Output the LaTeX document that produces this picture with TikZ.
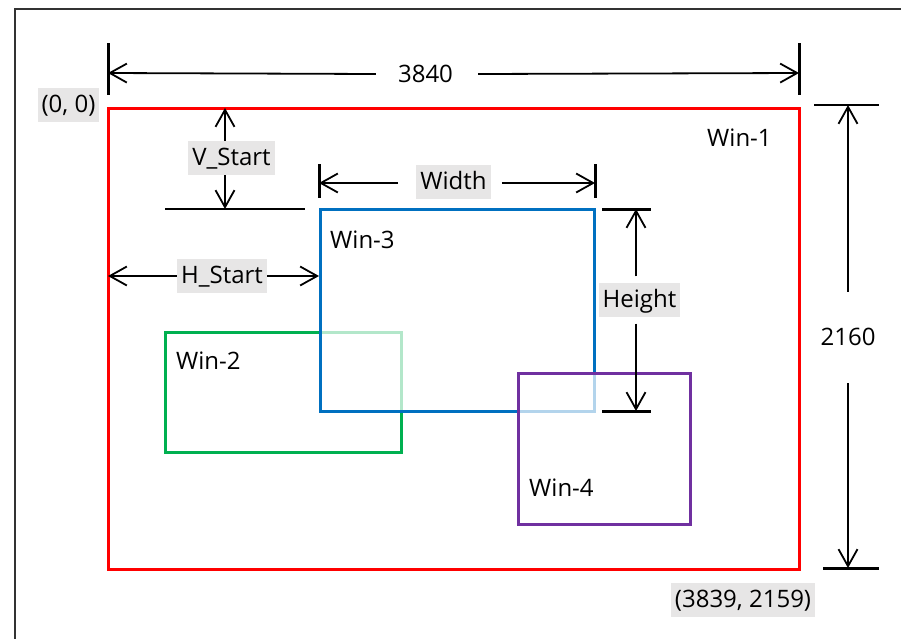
\documentclass[tikz,border=0pt]{standalone}
\usepackage{fontspec}
\setmainfont{Open Sans}
\usetikzlibrary{arrows.meta,calc}
\definecolor{lblgray}{RGB}{231,230,230}
\definecolor{wred}{RGB}{255,0,0}
\definecolor{wblue}{RGB}{0,112,192}
\definecolor{wgreen}{RGB}{0,176,80}
\definecolor{wpurple}{RGB}{112,48,160}
\begin{document}
\begin{tikzpicture}[x=1pt,y=-1pt,
  every node/.style={font=\fontsize{24}{28}\selectfont, inner sep=0pt},
  graylbl/.style={fill=lblgray, inner xsep=4pt, inner ysep=5pt, text height=19.5pt, text depth=4.5pt},
  dimarrow/.style={line width=1.8pt, -{Straight Barb[length=17pt,width=19pt]}},
  ticklong/.style={line width=3pt},
  tickthin/.style={line width=1.6pt},
  winbox/.style={line width=3pt},
  overlay box/.style={fill=white, fill opacity=0.7}]
\useasboundingbox (0,0) rectangle (901,638);
% outer frame
\draw[black!80, line width=1.6pt] (15,9) rectangle (915,660);

% windows
\draw[winbox, wred] (108,108) rectangle (799,569);
\draw[winbox, wgreen] (165,332) rectangle (401,452);
\draw[winbox, wblue, overlay box] (320,209) rectangle (594,411);
\draw[winbox, wpurple, overlay box] (518,373) rectangle (690,524);

\node[anchor=west] (win1) at (707,138) {Win-1};
\node[anchor=west] (win2) at (176,361) {Win-2};
\node[anchor=west] (win3) at (330,240) {Win-3};
\node[anchor=west] (win4) at (529,488) {Win-4};

% corner labels
\node[graylbl] (orig) at (68.5,105) {(0, 0)};
\node[graylbl] (lastpx) at (743,600) {(3839, 2159)};

% total width 3840
\coordinate (tl) at (108,73);
\coordinate (tr) at (799,73);
\draw[ticklong] (108,43) -- (108,95);
\draw[ticklong] (799,43) -- (799,95);
\node (n3840) at (425.5,74) {3840};
\draw[dimarrow] ([xshift=-22pt]n3840.west) -- (tl);
\draw[dimarrow] ([xshift=25pt]n3840.east) -- (tr);

% total height 2160
\coordinate (rt) at (848,105);
\coordinate (rb) at (848,568);
\draw[tickthin] (814,105) -- (879,105);
\draw[ticklong] (823,568) -- (879,568);
\node (n2160) at (848,337) {2160};
\draw[dimarrow] ([yshift=36pt]n2160.north) -- (rt);
\draw[dimarrow] ([yshift=-37pt]n2160.south) -- (rb);

% V_Start
\coordinate (vtop) at (225,108);
\coordinate (vbot) at (225,209);
\draw[tickthin] (165,209) -- (305,209);
\node[graylbl] (vs) at (231.5,158) {V\_Start};
\draw[dimarrow] (vs.north -| vtop) -- (vtop);
\draw[dimarrow] (vs.south -| vbot) -- (vbot);

% H_Start
\coordinate (hl) at (108,276);
\coordinate (hr) at (319,276);
\node[graylbl] (hs) at (222,275.5) {H\_Start};
\draw[dimarrow] (hs.west |- hl) -- (hl);
\draw[dimarrow] (hs.east |- hr) -- (hr);

% Width
\coordinate (wl) at (319,183);
\coordinate (wr) at (595,183);
\draw[ticklong] (319,164) -- (319,198);
\draw[ticklong] (595,164) -- (595,198);
\node[graylbl] (wd) at (453.5,181.5) {Width};
\draw[dimarrow] ($(wd.west |- wl)+(-18,0)$) -- (wl);
\draw[dimarrow] ($(wd.east |- wr)+(11,0)$) -- (wr);

% Height
\coordinate (ht) at (636,209);
\coordinate (hb) at (636,411);
\draw[ticklong] (602,209) -- (651,209);
\draw[ticklong] (602,411) -- (651,411);
\node[graylbl] (hg) at (639.5,299.5) {Height};
\draw[dimarrow] ($(hg.north -| ht)+(0,-6)$) -- (ht);
\draw[dimarrow] ($(hg.south -| hb)+(0,7)$) -- (hb);
\end{tikzpicture}
\end{document}
